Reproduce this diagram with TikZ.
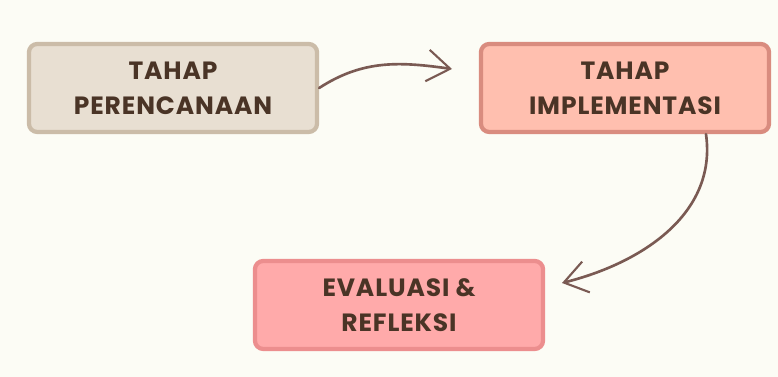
\documentclass[tikz,border=0pt]{standalone}
\usepackage{fontspec}
\setmainfont{Poppins}[UprightFont=* SemiBold, BoldFont=* Bold]
\usetikzlibrary{arrows.meta}
\definecolor{paper}{HTML}{FCFCF5}
\definecolor{ink}{HTML}{4A3426}
\definecolor{arrowink}{HTML}{7A5A53}
\definecolor{planfill}{HTML}{E8DFD2}
\definecolor{planline}{HTML}{CBBCA8}
\definecolor{implfill}{HTML}{FFBFAF}
\definecolor{implline}{HTML}{D98C7F}
\definecolor{evalfill}{HTML}{FFAAAA}
\definecolor{evalline}{HTML}{EC8E8E}
\begin{document}
\begin{tikzpicture}
[x=0.01cm, y=-0.01cm, font=\fontsize{7.1}{10}\selectfont\bfseries\addfontfeatures{LetterSpace=3.5},
stage/.style={rectangle, rounded corners=2.4pt, line width=1.2pt, text=ink, align=center,
  minimum width=2.88cm, minimum height=0.88cm, inner sep=0pt},
plan/.style={stage, draw=planline, fill=planfill},
impl/.style={stage, draw=implline, fill=implfill},
eval/.style={stage, draw=evalline, fill=evalfill},
flow/.style={draw=arrowink, line width=0.75pt, line cap=round,
  -{Straight Barb[length=6.5pt, width=9pt, line width=0.6pt]}}]

\fill[paper] (0,0) rectangle (778,377);
\useasboundingbox (0,0) rectangle (778,377);

\node[plan] (tahap1) at (173,88) {TAHAP\\PERENCANAAN};
\node[impl] (tahap2) at (625,88) {TAHAP\\IMPLEMENTASI};
\node[eval] (tahap3) at (399,305) {EVALUASI \&\\REFLEKSI};

\coordinate (tip1) at (452,69);
\coordinate (tail2) at (706,133);
\coordinate (tip2) at (562,283);

\draw[flow] (tahap1.east) to[out=33, in=172] (tip1);
\draw[flow] (tahap2.south -| tail2) to[out=-82, in=14] (tip2);
\end{tikzpicture}
\end{document}
